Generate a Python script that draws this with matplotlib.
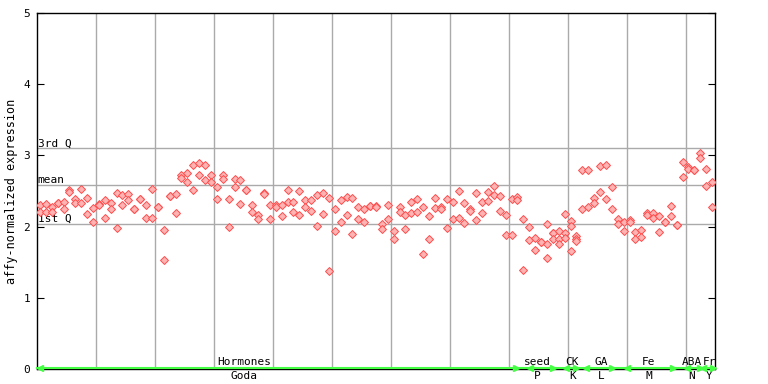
import matplotlib
matplotlib.use("Agg")
import matplotlib.pyplot as plt
import matplotlib.transforms as mtransforms

# replicate values for each sample, left to right
samples = [
    [2.31, 2.20], [2.32, 2.21], [2.28, 2.21], [2.33, 2.33], [2.35, 2.25],
    [2.51, 2.48], [2.39, 2.33], [2.53, 2.33], [2.40, 2.17], [2.26, 2.06],
    [2.32, 2.30], [2.37, 2.12], [2.33, 2.25], [2.47, 1.98], [2.44, 2.30],
    [2.46, 2.37], [2.25, 2.25], [2.39, 2.39], [2.31, 2.12], [2.53, 2.12],
    [2.27, 2.27], [1.95, 1.53], [2.43, 2.43], [2.46, 2.19], [2.72, 2.68],
    [2.76, 2.63], [2.86, 2.52], [2.90, 2.73], [2.86, 2.66], [2.73, 2.62],
    [2.56, 2.39], [2.73, 2.67], [2.39, 2.00], [2.67, 2.56], [2.66, 2.32],
    [2.52, 2.52], [2.30, 2.21], [2.16, 2.11], [2.47, 2.46], [2.30, 2.10],
    [2.31, 2.28], [2.31, 2.15], [2.52, 2.34], [2.34, 2.21], [2.50, 2.16],
    [2.37, 2.28], [2.38, 2.22], [2.44, 2.01], [2.47, 2.18], [2.40, 1.38],
    [2.24, 1.94], [2.38, 2.06], [2.42, 2.16], [2.40, 1.90], [2.28, 2.11],
    [2.24, 2.07], [2.29, 2.29], [2.29, 2.28], [2.04, 1.96], [2.30, 2.11],
    [1.94, 1.83], [2.28, 2.21], [2.16, 1.97], [2.35, 2.19], [2.39, 2.21],
    [2.28, 1.62], [2.15, 1.83], [2.40, 2.26], [2.28, 2.24], [2.39, 1.98],
    [2.35, 2.11], [2.50, 2.12], [2.33, 2.05], [2.25, 2.22], [2.47, 2.09],
    [2.35, 2.19], [2.49, 2.36], [2.57, 2.45], [2.43, 2.22], [2.16, 1.88],
    [2.39, 1.88], [2.42, 2.38], [2.11, 1.39], [2.00, 1.81], [1.84, 1.67],
    [1.78, 1.78], [2.04, 1.76, 1.56], [1.91, 1.91, 1.83], [1.94, 1.83, 1.76],
    [2.18, 1.91, 1.84], [2.08, 2.01, 1.66], [1.87, 1.83, 1.79],
    [2.80, 2.24], [2.80, 2.28], [2.40, 2.33], [2.85, 2.49], [2.87, 2.39],
    [2.56, 2.25], [2.11, 2.04], [2.07, 1.94], [2.09, 2.07], [1.93, 1.83],
    [1.95, 1.85], [2.19, 2.16], [2.19, 2.12], [2.15, 1.93], [2.06, 2.06],
    [2.29, 2.15], [2.02, 2.02], [2.91, 2.69], [2.84, 2.81], [2.79, 2.79],
    [3.04, 2.97], [2.81, 2.57], [2.63, 2.28],
]

q1, mean, q3 = 2.036, 2.585, 3.10

group_top = ["Hormones", "seed", "CK", "GA", "Fe", "ABA", "Fr"]
group_bottom = ["Goda", "P", "K", "L", "M", "N", "Y"]
group_span = [(0, 80.8), (83.1, 87), (89.3, 91), (92.7, 97.1),
              (99.5, 107.3), (109.7, 111.9), (112.5, 114.1)]
label_x = [34.6, 84.3, 90.3, 95.2, 103.2, 110.6, 113.6]

xs, ys = [], []
for i, vals in enumerate(samples):
    for v in vals:
        xs.append(i)
        ys.append(v)

mono = "DejaVu Sans Mono"
fig = plt.figure(figsize=(7.68, 3.84), dpi=100)
ax = fig.add_axes([37 / 768, 15.3 / 384, 678 / 768, 355.4 / 384])

ax.set_xlim(-0.5, 114.5)
ax.set_ylim(0, 5)

# vertical grid every 10 samples
ax.set_xticks([9.5 + 10 * k for k in range(11)])
ax.set_xticklabels([])
ax.tick_params(axis="x", length=0)
ax.grid(axis="x", color="#aaaaaa", linewidth=1)

for v, name in [(q3, "3rd Q"), (mean, "mean"), (q1, "1st Q")]:
    ax.axhline(v, color="#aaaaaa", linewidth=1, zorder=1)
    ax.text(0.001, v, name, transform=ax.get_yaxis_transform(),
            fontsize=8, family=mono, va="bottom", ha="left")

ax.plot(xs, ys, linestyle="none", marker="D", markersize=3.8,
        markerfacecolor="#ffb3b3", markeredgecolor="#ff4d4d",
        markeredgewidth=0.7, zorder=3)

ax.set_yticks(range(6))
ax.set_yticklabels([str(k) for k in range(6)], family=mono, fontsize=8)
ax.tick_params(axis="y", direction="in", length=5, pad=5, right=True)
ax.set_ylabel("affy-normalized expression", family=mono, fontsize=8.5,
              labelpad=4)

for s in ax.spines.values():
    s.set_color("black")
    s.set_linewidth(1)

# green category bar along the bottom
ax.axhline(0.005, color="#44ff44", linewidth=1.5, zorder=4, clip_on=False)
for a, b in group_span:
    ax.plot([a], [0.005], marker="<", markersize=4, color="#44ff44",
            clip_on=False, zorder=5)
    ax.plot([b], [0.005], marker=">", markersize=4, color="#44ff44",
            clip_on=False, zorder=5)

trans = mtransforms.blended_transform_factory(ax.transData, ax.transAxes)
for x, top, bottom in zip(label_x, group_top, group_bottom):
    ax.text(x, 0.02, top, transform=trans, ha="center", va="center",
            family=mono, fontsize=8)
    ax.text(x, -0.02, bottom, transform=trans, ha="center", va="center",
            family=mono, fontsize=8)

fig.savefig("out.png", dpi=100)
